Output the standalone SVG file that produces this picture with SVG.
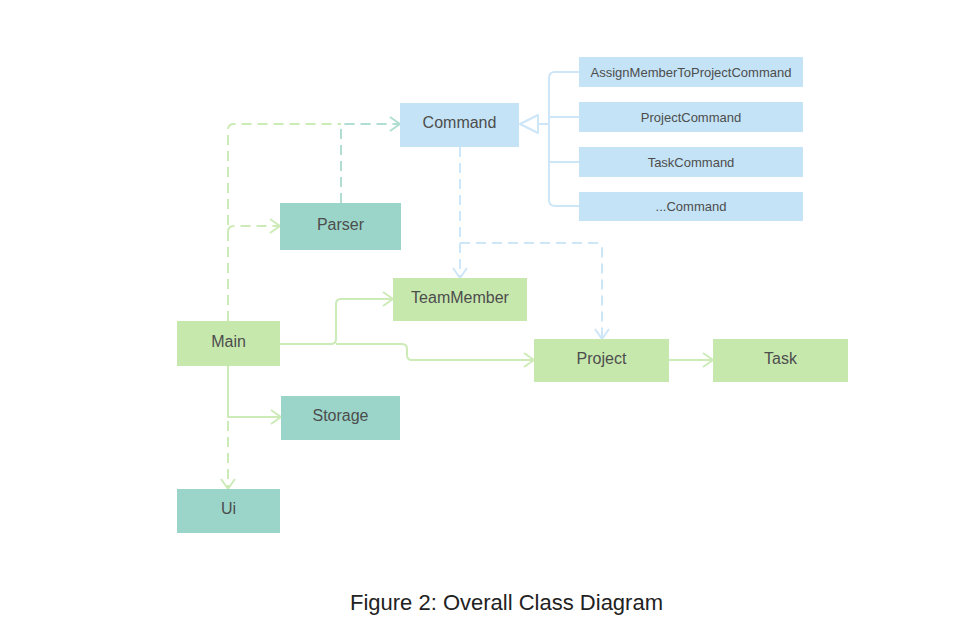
<svg xmlns="http://www.w3.org/2000/svg" width="961" height="644" viewBox="0 0 961 644">
<style>
.t{font-family:"Liberation Sans",Arial,sans-serif;font-size:16px;fill:#4d4d4d;text-anchor:middle}
.s{font-family:"Liberation Sans",Arial,sans-serif;font-size:13px;fill:#4d4d4d;text-anchor:middle}
.blue{fill:#c4e3f6}
.teal{fill:#9bd5c9}
.green{fill:#c7e8ad}
.ln{fill:none;stroke-width:2;stroke-linejoin:round;stroke-linecap:butt}
.g{stroke:#cdebb6}
.tl{stroke:#b0ded3}
.b{stroke:#cde6f8}
.d{stroke-dasharray:10 6}
</style>
<rect width="961" height="644" fill="#ffffff"/>
<g id="connectors">
  <path class="ln g d" d="M228,321 V130 Q228,124 234,124 H341"/>
  <path class="ln g d" d="M228,232 Q228,226 234,226 H279"/>
  <path class="ln g" d="M270,219 L280,226 L270,233"/>
  <path class="ln tl d" d="M341,203 V130 Q341,124 347,124 H399"/>
  <path class="ln tl" d="M390,117 L400,124 L390,131"/>
  <path class="ln b d" d="M460,147 V277"/>
  <path class="ln b" d="M453,268 L460,278 L467,268"/>
  <path class="ln b d" d="M460,243 H596 Q602,243 602,249 V338"/>
  <path class="ln b" d="M595,329 L602,339 L609,329"/>
  <path class="ln g" d="M280,344 H331 Q336,344 336,339 V304 Q336,299 341,299 H392"/>
  <path class="ln g" d="M383,292 L393,299 L383,306"/>
  <path class="ln g" d="M336,344 H402 Q407,344 407,349 V355 Q407,360 412,360 H533"/>
  <path class="ln g" d="M524,353 L534,360 L524,367"/>
  <path class="ln g" d="M228,366 V417 H280"/>
  <path class="ln g" d="M271,410 L281,417 L271,424"/>
  <path class="ln g d" d="M228,421 V488"/>
  <path class="ln g" d="M221,479 L228,489 L235,479"/>
  <path class="ln g" d="M669,360 H712"/>
  <path class="ln g" d="M703,353 L713,360 L703,367"/>
  <path class="ln b" d="M520,124 L538,115 L538,133 Z" fill="#ffffff"/>
  <path class="ln b" d="M538,124 H549"/>
  <path class="ln b" d="M579,72 H555 Q549,72 549,78 V200 Q549,206 555,206 H579"/>
  <path class="ln b" d="M549,117 H579"/>
  <path class="ln b" d="M549,162 H579"/>
</g>
<g id="Command"><rect class="blue" x="400" y="103" width="119" height="44"/><text class="t" x="459.5" y="128">Command</text></g>
<g id="AssignMemberToProjectCommand"><rect class="blue" x="579" y="57" width="224" height="30"/><text class="s" x="691" y="76.5">AssignMemberToProjectCommand</text></g>
<g id="ProjectCommand"><rect class="blue" x="579" y="102" width="224" height="30"/><text class="s" x="691" y="121.5">ProjectCommand</text></g>
<g id="TaskCommand"><rect class="blue" x="579" y="147" width="224" height="30"/><text class="s" x="691" y="166.5">TaskCommand</text></g>
<g id="OtherCommand"><rect class="blue" x="579" y="192" width="224" height="29"/><text class="s" x="691" y="211">...Command</text></g>
<g id="Parser"><rect class="teal" x="280" y="203" width="121" height="47"/><text class="t" x="340.5" y="230">Parser</text></g>
<g id="TeamMember"><rect class="green" x="393" y="278" width="134" height="43"/><text class="t" x="460" y="303">TeamMember</text></g>
<g id="Main"><rect class="green" x="177" y="321" width="103" height="45"/><text class="t" x="228.5" y="347">Main</text></g>
<g id="Project"><rect class="green" x="534" y="339" width="135" height="43"/><text class="t" x="601.5" y="364">Project</text></g>
<g id="Task"><rect class="green" x="713" y="339" width="135" height="43"/><text class="t" x="780.5" y="364">Task</text></g>
<g id="Storage"><rect class="teal" x="281" y="396" width="119" height="44"/><text class="t" x="340.5" y="421">Storage</text></g>
<g id="Ui"><rect class="teal" x="177" y="489" width="103" height="44"/><text class="t" x="228.5" y="514">Ui</text></g>
<text x="350" y="610" font-family="'Liberation Sans',Arial,sans-serif" font-size="22px" fill="#222222">Figure 2: Overall Class Diagram</text>
</svg>
